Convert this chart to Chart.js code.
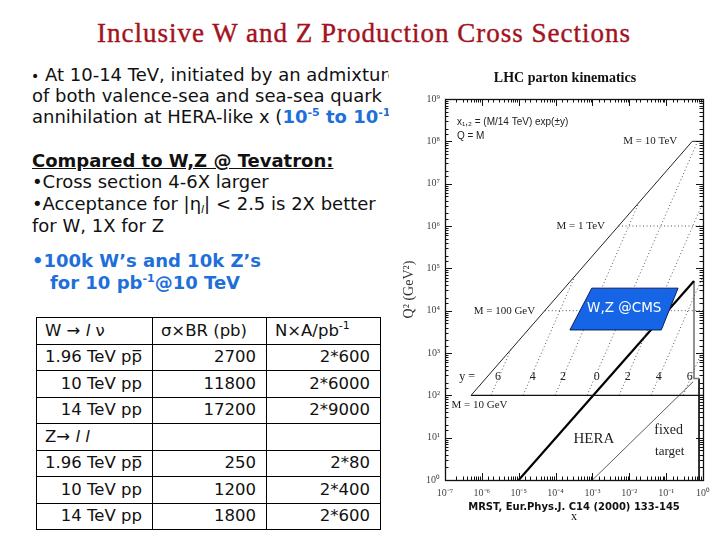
<!DOCTYPE html>
<html>
<head>
<meta charset="utf-8">
<script src="https://cdn.jsdelivr.net/npm/chart.js@4.4.0/dist/chart.umd.min.js"></script>
<style>
  body { margin: 0; width: 720px; height: 540px; position: relative; overflow: hidden; background: #fff; }
  .ln { position: absolute; font-family: "DejaVu Sans", Verdana, sans-serif; font-size: 18px; line-height: 22px; color: #111; white-space: nowrap; }
  .blue { color: #1E6FD9; font-weight: bold; }
  sup { font-size: 11px; vertical-align: 7px; line-height: 0; }
  sub { font-size: 11px; vertical-align: -3px; line-height: 0; }
  #title { position: absolute; left: 97px; top: 18px; font-family: "Liberation Serif", serif; font-size: 27px; line-height: 30px; letter-spacing: 1px; color: #A3121E; white-space: nowrap; -webkit-text-stroke: 0.4px #A3121E; }
  #tbl { position: absolute; left: 36px; top: 317px; border-collapse: collapse; font-family: "DejaVu Sans", Verdana, sans-serif; font-size: 16.5px; color: #111; }
  #tbl td { border: 1px solid #000; height: 25.5px; padding: 0 8px; line-height: 20px; white-space: nowrap; }
  #tbl td.r { text-align: right; padding-right: 10px; }
  #tbl tr { height: 26.5px; }
  #wrap { position: absolute; left: 389px; top: 60px; width: 331px; height: 480px; background: #fff; }
</style>
</head>
<body>
<div id="title">Inclusive W and Z Production Cross Sections</div>

<div class="ln" style="left:31px; top:63.5px"><span style="font-size:14px">•</span> At 10-14 TeV, initiated by an admixture</div>
<div class="ln" style="left:32px; top:84.5px">of both valence-sea and sea-sea quark</div>
<div class="ln" style="left:32px; top:105.5px">annihilation at HERA-like x (<span class="blue">10<sup>-5</sup> to 10<sup>-1</sup>)</span></div>
<div class="ln" style="left:32px; top:150px"><b><u>Compared to W,Z @ Tevatron:</u></b></div>
<div class="ln" style="left:32px; top:171px">•Cross section 4-6X larger</div>
<div class="ln" style="left:32px; top:192.7px">•Acceptance for |η<sub><i>l</i></sub>| &lt; 2.5 is 2X better</div>
<div class="ln" style="left:32px; top:214.5px">for W, 1X for Z</div>
<div class="ln blue" style="left:32px; top:249.5px">•100k W’s and 10k Z’s</div>
<div class="ln blue" style="left:50px; top:272px">for 10 pb<sup>-1</sup>@10 TeV</div>

<table id="tbl"></table>

<div id="wrap"><canvas id="kinematics"></canvas></div>

<script>
// table values
const tableHeader = ['W → <i>l</i> ν', 'σ×BR (pb)', 'N×A/pb<sup>-1</sup>'];
const zHeader = 'Z→ <i>l l</i>';
const beams = ['1.96 TeV pp\u0305', '10 TeV pp', '14 TeV pp'];
const wSigmaBR = [2700, 11800, 17200];
const wEvents = ['2*600', '2*6000', '2*9000'];
const zSigmaBR = [250, 1200, 1800];
const zEvents = ['2*80', '2*400', '2*600'];

// plot tick labels
const xTickLabels = ['10⁻⁷', '10⁻⁶', '10⁻⁵', '10⁻⁴', '10⁻³', '10⁻²', '10⁻¹', '10⁰'];
const yTickLabels = ['10⁰', '10¹', '10²', '10³', '10⁴', '10⁵', '10⁶', '10⁷', '10⁸', '10⁹'];

// lines (x, Q^2)
const cmsRegion = [{x: 2.45e-4, y: 3.5e3}, {x: 9.6e-4, y: 3.4e4}, {x: 0.21, y: 3.4e4}, {x: 0.074, y: 3.5e3}, {x: 2.45e-4, y: 3.5e3}];
const lhcLimit = [{x: 5.1e-7, y: 1e2}, {x: 0.51, y: 1e8}, {x: 1, y: 1e8}];
const mass10GeV = [{x: 5.1e-7, y: 1e2}, {x: 1, y: 1e2}];
const mass100GeV = [{x: 5.1e-5, y: 1e4}, {x: 1, y: 1e4}];
const mass1TeV = [{x: 5.1e-3, y: 1e6}, {x: 1, y: 1e6}];
const rapM6 = [{x: 1.77e-6, y: 1e2}, {x: 6.14e-6, y: 1204}];
const rapM4 = [{x: 1.31e-5, y: 1e2}, {x: 3.35e-4, y: 6.57e4}];
const rapM2 = [{x: 9.67e-5, y: 1e2}, {x: 1.83e-2, y: 3.59e6}];
const rap0 = [{x: 7.14e-4, y: 1e2}, {x: 0.714, y: 1e8}];
const rapP2 = [{x: 5.28e-3, y: 1e2}, {x: 1, y: 3.59e6}];
const rapP4 = [{x: 3.9e-2, y: 1e2}, {x: 1, y: 6.57e4}];
const rapP6 = [{x: 0.288, y: 1e2}, {x: 1, y: 1204}];
const heraLimit = [{x: 1e-5, y: 1}, {x: 0.57, y: 5e4}];
const heraEdge = [{x: 0.57, y: 5e4}, {x: 0.57, y: 250}, {x: 0.78, y: 250}];
const fixedEdge = [{x: 0.78, y: 250}, {x: 0.78, y: 1}];
const fixedTarget = [{x: 1e-3, y: 1}, {x: 0.54, y: 210}];

// build the table
(function () {
    const tbl = document.getElementById('tbl');
    let html = '<tr>' + tableHeader.map(h => '<td style="width:97px">' + h + '</td>').join('') + '</tr>';
    beams.forEach((b, i) => {
        html += '<tr><td class="r">' + b + '</td><td class="r">' + wSigmaBR[i] + '</td><td class="r">' + wEvents[i] + '</td></tr>';
    });
    html += '<tr><td>' + zHeader + '</td><td></td><td></td></tr>';
    beams.forEach((b, i) => {
        html += '<tr><td class="r">' + b + '</td><td class="r">' + zSigmaBR[i] + '</td><td class="r">' + zEvents[i] + '</td></tr>';
    });
    tbl.innerHTML = html;
})();

const isDecade = v => Math.abs(Math.log10(v) - Math.round(Math.log10(v))) < 1e-6;

const serif = 'Liberation Serif, Times New Roman, serif';
const notes = [
    {text: 'x\u2081,\u2082 = (M/14 TeV) exp(±y)', x: 2.1e-7, y: 2.9e8, align: 'left', font: '10px Liberation Sans, Arial, sans-serif'},
    {text: 'Q = M', x: 2.1e-7, y: 1.3e8, align: 'left', font: '10px Liberation Sans, Arial, sans-serif'},
    {text: 'M = 10 TeV', x: 0.2, y: 1e8, align: 'right', font: '11px ' + serif},
    {text: 'M = 1 TeV', x: 2.2e-3, y: 1e6, align: 'right', font: '11px ' + serif},
    {text: 'M = 100 GeV', x: 2.8e-5, y: 1e4, align: 'right', font: '11px ' + serif},
    {text: 'M = 10 GeV', x: 1.5e-7, y: 60, align: 'left', font: '11px ' + serif},
    {text: 'y =', x: 4e-7, y: 270, font: '12px ' + serif},
    {text: '6', x: 2.75e-6, y: 270, font: '12px ' + serif},
    {text: '4', x: 2.4e-5, y: 270, font: '12px ' + serif},
    {text: '2', x: 1.6e-4, y: 270, font: '12px ' + serif},
    {text: '0', x: 1.3e-3, y: 270, font: '12px ' + serif},
    {text: '2', x: 9.1e-3, y: 270, font: '12px ' + serif},
    {text: '4', x: 6.3e-2, y: 270, font: '12px ' + serif},
    {text: '6', x: 0.44, y: 270, font: '12px ' + serif},
    {text: 'HERA', x: 1.1e-3, y: 9.3, font: '15px ' + serif},
    {text: 'fixed', x: 0.117, y: 15, font: '14px ' + serif},
    {text: 'target', x: 0.125, y: 4.6, font: '13px ' + serif},
    {text: 'W,Z @CMS', x: 7.3e-3, y: 1.1e4, font: '13.5px DejaVu Sans, Verdana, sans-serif', color: '#fff'}
];

const framePlugin = {
    id: 'frame',
    afterDatasetsDraw(chart) {
        const ctx = chart.ctx;
        const xs = chart.scales.x, ys = chart.scales.y, a = chart.chartArea;
        ctx.save();
        ctx.textBaseline = 'middle';
        notes.forEach(n => {
            ctx.font = n.font;
            ctx.fillStyle = n.color || '#222';
            ctx.textAlign = n.align || 'center';
            ctx.fillText(n.text, xs.getPixelForValue(n.x), ys.getPixelForValue(n.y));
        });

        ctx.strokeStyle = '#111';
        ctx.lineWidth = 1;
        ctx.beginPath();
        xs.ticks.forEach(t => {
            const px = Math.round(xs.getPixelForValue(t.value)) + 0.5;
            const len = isDecade(t.value) ? 7 : 3.5;
            ctx.moveTo(px, a.bottom); ctx.lineTo(px, a.bottom - len);
            ctx.moveTo(px, a.top); ctx.lineTo(px, a.top + len);
        });
        ys.ticks.forEach(t => {
            const py = Math.round(ys.getPixelForValue(t.value)) + 0.5;
            const len = isDecade(t.value) ? 7 : 3.5;
            ctx.moveTo(a.left, py); ctx.lineTo(a.left + len, py);
            ctx.moveTo(a.right, py); ctx.lineTo(a.right - len, py);
        });
        ctx.stroke();
        ctx.lineWidth = 1.3;
        ctx.strokeRect(Math.round(a.left) + 0.5, Math.round(a.top) + 0.5, Math.round(a.right - a.left), Math.round(a.bottom - a.top));

        ctx.fillStyle = '#111';
        ctx.textAlign = 'center';
        ctx.font = 'bold 14px ' + serif;
        ctx.fillText('LHC parton kinematics', a.left + 120, a.top - 21);
        ctx.font = 'bold 10px DejaVu Sans, Verdana, sans-serif';
        ctx.fillText('MRST, Eur.Phys.J. C14 (2000) 133-145', (a.left + a.right) / 2, a.bottom + 27);
        ctx.font = '12px ' + serif;
        ctx.fillText('x', (a.left + a.right) / 2, a.bottom + 37);
        ctx.restore();
    }
};

const dotted = (data) => ({data: data, borderColor: '#555', borderWidth: 1, borderDash: [1, 2.5]});
const solid = (data, w, c) => ({data: data, borderColor: c || '#222', borderWidth: w || 1});

new Chart(document.getElementById('kinematics'), {
    type: 'line',
    data: {
        datasets: [
            {data: cmsRegion, borderColor: '#0A1E5A', borderWidth: 1, backgroundColor: '#1565E6', fill: 'shape'},
            solid(lhcLimit),
            solid(mass10GeV, 1.2, '#111'),
            dotted(mass100GeV),
            dotted(mass1TeV),
            dotted(rapM6), dotted(rapM4), dotted(rapM2), dotted(rap0),
            dotted(rapP2), dotted(rapP4), dotted(rapP6),
            solid(heraLimit, 2.2, '#000'),
            solid(heraEdge, 1.6, '#777'),
            solid(fixedEdge, 1.6, '#000'),
            solid(fixedTarget, 0.8, '#333')
        ]
    },
    options: {
        responsive: true,
        maintainAspectRatio: false,
        animation: false,
        layout: {padding: {left: 0, right: 17, top: 39, bottom: 0}},
        elements: {point: {radius: 0}, line: {tension: 0}},
        plugins: {legend: {display: false}, tooltip: {enabled: false}},
        scales: {
            x: {
                type: 'logarithmic', min: 1e-7, max: 1,
                grid: {display: false, drawTicks: false},
                border: {display: false},
                afterFit: s => { s.height = 60; },
                ticks: {
                    autoSkip: false, maxRotation: 0, padding: 7,
                    font: {family: serif, size: 10}, color: '#444',
                    callback: v => isDecade(v) ? xTickLabels[Math.round(Math.log10(v)) + 7] : ''
                }
            },
            y: {
                type: 'logarithmic', min: 1, max: 1e9,
                grid: {display: false, drawTicks: false},
                border: {display: false},
                afterFit: s => { s.width = 56; },
                title: {display: true, text: 'Q² (GeV²)', font: {family: serif, size: 14}, color: '#333', padding: {top: 12, bottom: 0}},
                ticks: {
                    autoSkip: false, padding: 5,
                    font: {family: serif, size: 10}, color: '#444',
                    callback: v => isDecade(v) ? yTickLabels[Math.round(Math.log10(v))] : ''
                }
            }
        }
    },
    plugins: [framePlugin]
});
</script>
</body>
</html>
